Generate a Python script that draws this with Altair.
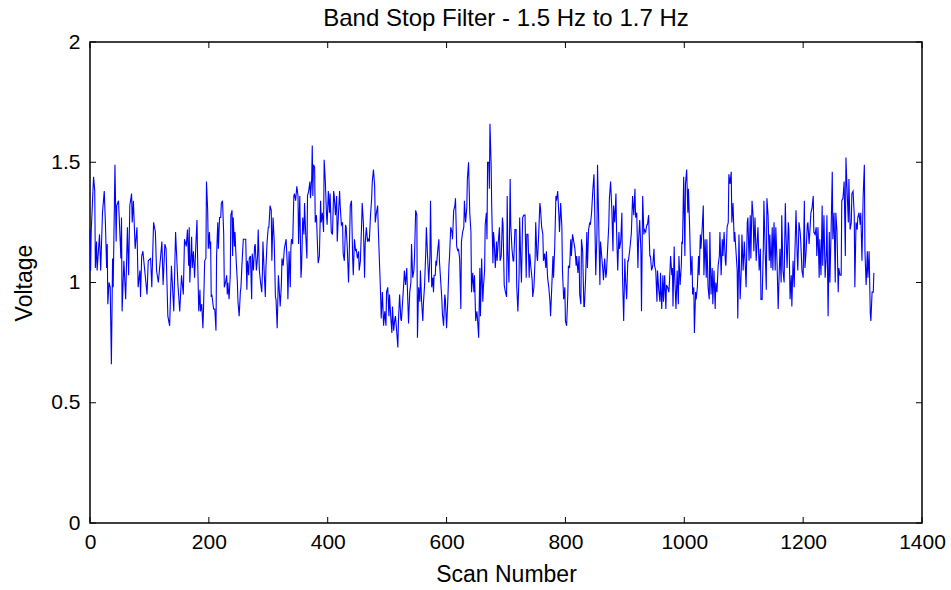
import altair as alt
import pandas as pd

# ---- data (scan number, voltage), in 8 stretches ----
scan_1 = [0,1,2,6,8,9,11,12,16,18,21,24,26,28,29,30,32,34,36,38,39,42,44,45,48,52,53,54,57,60,63,65,67,70,71,73,76,79,81,84,85,87,89,96,98,102,104,107,110,112,115,121,123,126,128,131,134,137,141,144,148,151,154,157,159,162,164]
volt_1 = [1.22,1.05,1.21,1.44,1.38,1.06,1.17,1.05,1.20,1.05,1.29,1.38,1.24,1.06,1.16,0.91,1.00,0.98,0.66,1.10,0.98,1.49,1.17,1.32,1.34,1.10,1.27,0.88,1.09,0.93,1.23,1.03,1.32,1.37,1.25,1.34,1.14,1.23,0.98,1.05,0.94,1.11,1.13,0.95,1.09,1.10,0.98,1.25,1.21,1.05,1.00,1.17,0.99,1.16,1.14,0.86,0.82,1.07,0.88,1.21,0.99,0.88,1.03,0.95,1.18,1.15,1.22]

scan_2 = [166,167,168,171,172,174,176,178,180,181,183,185,186,188,190,191,193,195,196,198,199,201,202,203,204,205,208,210,212,213,215,216,218,220,221,223,225,226,228,230,231,232,234,236,237,239,240,241,243,244,246,248,249,251,253,254,256,258,260,262,264,265,267,268,270,272,273,275,277,278,280,282,283,285,287,289,290,291,293,295,296,298,300,301,303,305,306,308,310,312,313,315,317,318,320,322,323,325,327]
volt_2 = [1.07,1.23,1.00,1.19,1.06,1.13,1.02,1.15,1.26,1.11,0.88,0.97,0.88,0.91,0.81,0.89,1.09,1.10,1.42,1.30,1.14,1.21,1.14,1.17,0.94,0.95,0.89,0.89,0.80,1.11,1.25,1.14,1.27,1.27,1.33,1.34,1.20,0.98,1.00,1.03,0.95,1.00,0.93,1.03,1.28,1.30,1.11,1.27,1.15,1.21,1.09,1.00,0.92,0.86,0.96,0.98,1.09,1.18,1.18,1.18,0.97,1.09,1.03,1.10,1.11,0.93,1.12,1.05,1.15,1.16,1.05,1.11,1.22,1.05,1.00,0.96,1.03,1.17,1.05,0.94,1.06,1.17,1.23,1.23,1.32,1.30,1.09,1.27,1.17,0.94,0.93,0.81,1.03,0.99,0.90,0.99,1.10,1.07,1.14]

scan_3 = [330,332,333,335,337,338,339,341,343,344,346,348,350,351,353,355,356,358,360,361,363,365,366,368,370,371,373,374,375,376,378,379,381,383,384,386,388,389,391,393,394,396,398,399,401,403,404,406,408,410,411,413,415,416,418,420,421,423,425,426,428,430,431,433,435,436,438,440,442,443,445,447,448,450,452,453,455,457,458,460,462,463,465,467,468,470,472,474,475,477,479,480,482,484,485,487,489,490]
volt_3 = [1.18,1.07,0.93,1.13,0.98,1.14,1.18,1.16,1.36,1.37,1.34,1.40,1.36,1.16,1.36,1.02,1.06,1.27,1.20,1.33,1.20,1.10,1.36,1.38,1.42,1.35,1.43,1.57,1.36,1.49,1.48,1.25,1.28,1.14,1.08,1.11,1.34,1.25,1.29,1.21,1.51,1.42,1.28,1.24,1.38,1.29,1.37,1.21,1.20,1.38,1.36,1.28,1.36,1.17,1.28,1.38,1.32,1.24,1.25,1.12,1.09,1.24,1.23,1.14,1.00,1.09,1.32,1.34,1.10,1.03,1.18,1.13,1.14,1.10,1.13,1.05,1.09,1.24,1.33,1.25,1.02,1.16,1.23,1.17,1.18,1.17,1.28,1.35,1.42,1.47,1.40,1.25,1.29,1.32,1.23,1.09,0.95,0.85]

scan_4 = [492,494,496,498,499,501,503,504,506,508,509,511,513,514,516,518,519,521,523,524,526,528,529,531,533,534,536,538,540,541,543,545,546,548,550,551,553,555,556,558,560,561,563,565,566,568,570,572,573,575,577,578,579,581,582,583,585,587,588,590,592,593,595,597,598,600,602,604,605,607,609,610,612,614,615,617,619,620,622,624,625,627,629,630,632,634,635,637,639,641,642,644,646,647,649,651,652,654]
volt_4 = [0.96,0.82,0.88,0.82,0.96,0.98,0.86,0.95,0.86,0.79,0.90,0.80,0.85,0.86,0.80,0.73,0.84,0.95,0.85,0.84,0.92,1.00,1.05,0.99,1.06,0.98,0.83,0.96,1.00,1.16,1.02,1.05,1.10,1.30,1.28,0.77,0.98,0.92,1.05,0.92,0.84,0.91,0.99,1.13,1.23,1.11,1.00,1.11,1.34,0.98,1.02,0.96,1.03,1.03,1.09,1.07,1.13,1.18,1.09,1.01,0.93,0.87,0.82,0.95,0.93,0.81,0.92,1.07,1.11,1.23,1.21,1.18,1.30,1.32,1.35,1.15,1.13,1.14,1.10,0.89,1.17,1.21,1.23,1.34,1.25,1.31,1.43,1.50,1.29,1.21,0.96,1.04,0.96,1.03,0.84,0.88,0.85,0.77]

scan_5 = [656,657,659,661,662,664,665,667,668,669,671,672,673,675,676,678,679,680,682,684,685,687,689,690,692,694,695,697,699,701,702,703,705,707,708,710,712,713,715,717,718,720,722,723,725,726,728,730,732,734,735,737,739,740,742,744,745,747,749,750,752,753,755,757,758,760,762,763,765,767,768,770,772,774,775,777,779,780,782,784,785,787,789,790,792,794,795,797,799,800,802,804,805,807,809,810,812,814,816]
volt_5 = [1.06,0.86,1.10,0.92,0.98,1.05,1.24,1.29,1.18,1.50,1.50,1.39,1.66,1.49,1.31,1.08,1.21,1.18,1.06,1.17,1.09,1.17,1.23,1.09,1.11,1.27,1.24,0.99,0.96,0.94,1.36,1.14,1.00,1.43,1.24,1.14,1.09,1.09,1.22,1.22,0.99,0.88,1.03,1.27,1.07,1.00,1.27,1.28,1.28,1.02,1.20,1.20,1.02,1.12,1.06,1.01,0.94,0.98,1.10,1.25,1.11,1.09,1.20,1.33,1.31,1.23,1.20,1.09,1.12,1.06,1.13,1.02,0.98,0.92,0.86,0.98,1.11,1.02,1.15,1.36,1.34,1.38,1.28,1.21,1.33,1.23,1.05,0.93,0.98,0.84,0.82,0.95,1.07,1.06,1.18,1.11,1.20,1.17,1.14]

scan_6 = [818,819,821,823,824,826,827,829,831,832,834,836,837,839,841,842,844,846,848,849,851,853,854,856,858,859,861,863,864,866,868,869,871,873,874,876,878,880,881,883,885,886,888,890,891,893,895,896,898,900,901,903,905,906,908,910,911,913,915,917,918,920,922,923,925,927,928,930,932,933,935,937,938,940,942,943,945,947,949,950,952,954,955,957,959,960,962,964,965,967,969,970,972,974,975,977,979,980]
volt_6 = [1.07,1.11,1.04,1.11,0.95,0.91,1.18,1.13,0.90,0.90,1.02,1.21,1.06,1.22,1.25,1.24,1.29,1.38,1.45,1.34,1.03,1.20,1.49,1.25,0.99,1.17,1.11,1.05,1.01,1.10,1.02,1.04,1.14,1.24,1.35,1.42,1.31,1.13,1.32,1.25,1.37,1.22,1.05,1.21,1.14,1.17,1.29,1.03,0.84,1.10,1.02,0.93,1.09,1.09,1.13,1.18,1.21,1.36,1.28,1.39,1.27,1.29,1.06,1.17,1.26,1.13,0.88,1.36,1.20,1.22,1.21,1.24,1.24,1.28,1.11,1.11,1.05,1.07,1.14,1.07,1.05,0.92,1.05,0.97,0.92,1.04,0.89,1.03,0.92,1.03,0.89,0.99,0.98,0.96,1.00,1.11,1.03,1.06]

scan_7 = [981,983,984,986,988,990,991,993,995,996,997,999,1001,1002,1004,1006,1007,1009,1011,1013,1014,1016,1017,1019,1020,1022,1024,1025,1027,1028,1030,1032,1033,1035,1037,1038,1040,1042,1043,1045,1047,1048,1050,1052,1053,1055,1057,1059,1060,1062,1064,1065,1067,1069,1070,1072,1074,1075,1077,1079,1080,1082,1084,1085,1087,1089,1090,1092,1094,1096,1097,1099,1101,1102,1104,1106,1107,1109,1111,1112,1114,1116,1117,1119,1121,1122,1124,1126,1128,1129,1131,1133,1134,1136,1138,1139,1141,1143]
volt_7 = [0.90,1.15,1.02,0.89,1.05,0.91,1.11,0.99,1.07,1.17,1.16,1.44,1.11,1.41,1.47,1.29,1.39,1.23,1.03,1.11,0.95,0.98,0.79,0.96,0.93,0.98,1.11,1.03,1.20,1.14,1.22,1.32,1.03,1.18,1.02,1.18,0.98,0.93,1.21,0.95,1.06,0.91,1.05,0.89,1.00,0.96,1.07,1.11,1.21,1.03,1.18,1.11,1.21,1.09,1.07,1.23,1.25,1.45,1.41,1.46,1.25,1.33,1.17,1.21,1.13,1.05,0.85,1.20,0.93,1.06,1.20,1.05,1.17,1.11,0.98,1.25,1.27,1.09,1.28,1.10,1.34,1.27,1.13,1.27,1.09,1.14,1.23,1.05,1.14,0.93,0.93,1.14,1.34,1.14,0.97,1.35,1.28,1.09]

scan_8 = [1144,1146,1148,1149,1151,1153,1154,1156,1158,1159,1161,1163,1164,1166,1168,1170,1171,1173,1175,1176,1178,1180,1181,1183,1185,1186,1188,1190,1191,1193,1195,1196,1198,1200,1202,1203,1205,1207,1208,1210,1212,1213,1215,1217,1218,1220,1222,1223,1225,1227,1228,1230,1232,1233,1235,1237,1239,1240,1242,1244,1245,1247,1249,1250,1252,1254,1255,1257,1259,1260,1262,1264,1265,1267,1269,1271,1272,1274,1276,1277,1279,1281,1282,1284,1286,1287,1289,1291,1292,1294,1296,1297,1299,1301,1303,1304,1306,1308,1309,1311,1313,1314,1316,1318,1319]
volt_8 = [1.20,1.06,1.23,1.05,1.25,1.05,1.23,1.09,0.89,0.98,1.14,1.00,1.28,1.05,1.00,1.33,1.21,1.06,1.25,1.22,0.93,1.03,0.90,1.09,0.98,1.11,1.30,1.11,1.05,1.25,1.21,1.17,1.05,1.02,1.34,1.06,1.13,1.24,1.25,1.16,1.24,1.29,1.31,1.36,1.21,1.20,1.23,1.11,1.23,1.02,1.18,1.03,1.32,1.07,1.28,1.02,1.12,1.28,0.86,1.21,1.00,1.21,1.46,1.18,1.29,1.00,1.29,1.21,0.96,1.06,1.03,1.03,1.34,1.35,1.42,1.11,1.52,1.38,1.25,1.43,1.22,1.25,1.37,1.38,1.28,0.98,1.25,1.22,1.27,1.29,1.24,1.29,1.09,1.36,1.49,1.13,0.99,1.13,1.02,1.13,0.87,0.84,0.96,0.96,1.04]

x_ticks = [0, 200, 400, 600, 800, 1000, 1200, 1400]
y_ticks = [0, 0.5, 1, 1.5, 2]

title_text = "Band Stop Filter - 1.5 Hz to 1.7 Hz"
x_title = "Scan Number"
y_title = "Voltage"

# ---- build table ----
scans, volts = [], []
for s, v in [(scan_1, volt_1), (scan_2, volt_2), (scan_3, volt_3), (scan_4, volt_4),
             (scan_5, volt_5), (scan_6, volt_6), (scan_7, volt_7), (scan_8, volt_8)]:
    for a, b in zip(s, v, strict=True):
        scans.append(a)
        volts.append(b)
df = pd.DataFrame({"scan": scans, "voltage": volts})
xt = pd.DataFrame({"scan": x_ticks})
yt = pd.DataFrame({"voltage": y_ticks})

W, H = 832, 481
TICK = 6
FONT = "Liberation Sans"

xscale = alt.Scale(domain=[0, 1400], nice=False, zero=False)
yscale = alt.Scale(domain=[0, 2], nice=False, zero=False)

xaxis = alt.Axis(values=x_ticks, format="d", title=x_title, ticks=False, tickSize=0,
                 grid=False, domain=False, labelPadding=8, titlePadding=11,
                 labelFlush=False)
yaxis = alt.Axis(values=y_ticks, format="~g", title=y_title, ticks=False, tickSize=0,
                 grid=False, domain=False, labelPadding=10, titlePadding=14)

line = alt.Chart(df).mark_line(color="#0000ff", strokeWidth=1.1).encode(
    x=alt.X("scan:Q", scale=xscale, axis=xaxis),
    y=alt.Y("voltage:Q", scale=yscale, axis=yaxis),
)

x_bottom = alt.Chart(xt).mark_rule(color="black", strokeWidth=1).encode(
    x=alt.X("scan:Q", scale=xscale, axis=xaxis),
    y=alt.value(H), y2=alt.value(H - TICK),
)
x_top = alt.Chart(xt).mark_rule(color="black", strokeWidth=1).encode(
    x=alt.X("scan:Q", scale=xscale, axis=xaxis),
    y=alt.value(0), y2=alt.value(TICK),
)
y_left = alt.Chart(yt).mark_rule(color="black", strokeWidth=1).encode(
    y=alt.Y("voltage:Q", scale=yscale, axis=yaxis),
    x=alt.value(0), x2=alt.value(TICK),
)
y_right = alt.Chart(yt).mark_rule(color="black", strokeWidth=1).encode(
    y=alt.Y("voltage:Q", scale=yscale, axis=yaxis),
    x=alt.value(W), x2=alt.value(W - TICK),
)

chart = alt.layer(line, x_bottom, x_top, y_left, y_right).properties(
    width=W,
    height=H,
    autosize=alt.AutoSizeParams(type="none"),
    padding={"left": 90, "top": 42, "right": 29, "bottom": 67},
    title=alt.TitleParams(title_text, font=FONT, fontSize=24, fontWeight="normal",
                          color="black", anchor="middle", offset=0),
    background="white",
).configure_view(
    stroke="black", strokeWidth=1.5,
).configure_axis(
    labelFont=FONT, labelFontSize=21, labelColor="black",
    titleFont=FONT, titleFontSize=23, titleColor="black", titleFontWeight="normal",
)

chart.save("out.html", embed_options={"renderer": "svg", "actions": False})
